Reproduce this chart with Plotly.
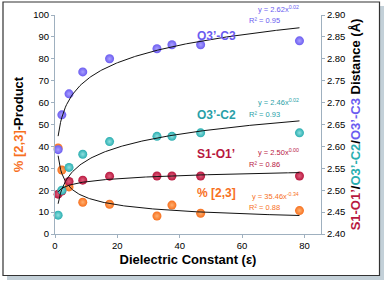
import numpy as np
import plotly.graph_objects as go

# Dielectric constants (x)
eps = [1.0, 2.2, 4.5, 8.9, 17.5, 32.7, 37.5, 46.7, 78.4]

# % [2,3]-Product (left axis)
pct_23 = [39.3, 29.2, 21.5, 14.5, 13.6, 8.2, 13.2, 9.5, 10.7]

# Distances (right axis, Å)
s1_o1 = [2.491, 2.498, 2.520, 2.523, 2.532, 2.5325, 2.5325, 2.5325, 2.5325]
o3_c2 = [2.443, 2.500, 2.552, 2.582, 2.611, 2.623, 2.623, 2.631, 2.631]
o3_c3 = [2.5925, 2.672, 2.720, 2.770, 2.800, 2.823, 2.832, 2.832, 2.841]

eq_text = ["y = 2.62x<sup>0.02</sup>", "y = 2.46x<sup>0.02</sup>",
           "y = 2.50x<sup>0.00</sup>", "y = 35.46x<sup>-0.34</sup>"]
r2_text = ["R² = 0.95", "R² = 0.93", "R² = 0.86", "R² = 0.88"]
labels = ["O3’-C3", "O3’-C2", "S1-O1’", "% [2,3]"]

C_PUR = "#6b5cf0"
C_TEAL = "#2aaeb0"
C_RED = "#b8183f"
C_ORG = "#f7701e"

L, R, T, B = 55, 65, 15, 49
W, H = 386, 283
PW, PH = W - L - R, H - T - B


def px2paper_x(px):
    return (px - L) / PW


def py2paper_y(py):
    return (H - B - py) / PH


def power_fit(x, y):
    b, ln_a = np.polyfit(np.log(x), np.log(y), 1)
    xs = np.linspace(min(x), max(x), 200)
    return xs, np.exp(ln_a) * xs ** b


fig = go.Figure()


def add_series(y, color, light, axis):
    fig.add_trace(go.Scatter(
        x=eps, y=y, mode="markers", yaxis=axis,
        marker=dict(size=9, color=color,
                    gradient=dict(type="radial", color=light),
                    line=dict(width=0)),
        showlegend=False, cliponaxis=False))


add_series(pct_23, C_ORG, "#ffb070", "y")
add_series(s1_o1, C_RED, "#e0607e", "y2")
add_series(o3_c2, C_TEAL, "#8fe0e0", "y2")
add_series(o3_c3, C_PUR, "#a9a0ff", "y2")

for y, axis in [(o3_c3, "y2"), (o3_c2, "y2"), (s1_o1, "y2"), (pct_23, "y")]:
    xs, ys = power_fit(eps, y)
    fig.add_trace(go.Scatter(x=xs, y=ys, mode="lines", yaxis=axis,
                             line=dict(color="#111111", width=1),
                             showlegend=False, hoverinfo="skip"))

AX = "#9fb0bf"
fig.update_layout(
    width=W, height=H,
    margin=dict(l=L, r=R, t=T, b=B, autoexpand=False),
    paper_bgcolor="white", plot_bgcolor="white",
    font=dict(family="Liberation Sans, Arial, sans-serif", color="black"),
    xaxis=dict(range=[0, 85.3], tickvals=[0, 20, 40, 60, 80], automargin=False,
               showgrid=False, zeroline=False, showline=True,
               linecolor=AX, linewidth=1, ticks="outside", ticklen=3,
               tickcolor=AX, tickfont=dict(size=9.5),
               title=dict(text="<b>Dielectric Constant (ε)</b>",
                          font=dict(size=13), standoff=4)),
    yaxis=dict(range=[0, 100], dtick=10, showgrid=False, zeroline=False, automargin=False,
               showline=True, linecolor=AX, linewidth=1, ticks="outside",
               ticklen=3, tickcolor=AX, tickfont=dict(size=9.5),
               title=dict(text="<b><span style='color:%s'>%% [2,3]</span>-Product</b>" % C_ORG,
                          font=dict(size=13), standoff=6)),
    yaxis2=dict(range=[2.40, 2.90], dtick=0.05, tickformat=".2f", automargin=False,
                overlaying="y", side="right", showgrid=False, zeroline=False,
                showline=True, linecolor=AX, linewidth=1, ticks="outside",
                ticklen=3, tickcolor=AX, tickfont=dict(size=9.5),
                title=dict(text=("<b><span style='color:%s'>S1-O1’</span>/"
                                 "<span style='color:%s'>O3’-C2</span>/"
                                 "<span style='color:%s'>O3’-C3</span> Distance (Å)</b>")
                           % (C_RED, C_TEAL, C_PUR),
                           font=dict(size=13), standoff=6)),
)

lab_colors = [C_PUR, "#2a9fa8", C_RED, C_ORG]
lab_py = [27, 115, 163, 202]
eq_py = [11, 104, 154, 198]
r2_py = [19, 113, 163, 206]
for i in range(4):
    fig.add_annotation(x=px2paper_x(216), y=py2paper_y(lab_py[i]), xref="paper", yref="paper",
                       text="<b>%s</b>" % labels[i],
                       showarrow=False, font=dict(size=12, color=lab_colors[i]))
    fig.add_annotation(x=px2paper_x(301), y=py2paper_y(eq_py[i] + 5), xref="paper", yref="paper",
                       xanchor="right", yanchor="bottom", text=eq_text[i],
                       showarrow=False, font=dict(size=7.5, color=lab_colors[i]))
    fig.add_annotation(x=px2paper_x(282), y=py2paper_y(r2_py[i] - 5), xref="paper", yref="paper",
                       yanchor="top", text=r2_text[i],
                       showarrow=False, font=dict(size=7.5, color=lab_colors[i]))

fig.add_shape(type="rect", xref="paper", yref="paper", layer="below",
              x0=px2paper_x(7), x1=px2paper_x(384), y0=py2paper_y(280), y1=py2paper_y(6),
              line=dict(width=0), fillcolor="#c3d0d8")
fig.add_shape(type="rect", xref="paper", yref="paper", layer="below",
              x0=px2paper_x(3), x1=px2paper_x(379.5), y0=py2paper_y(275.5), y1=py2paper_y(2),
              line=dict(width=1.2, color="#333333"), fillcolor="white")

fig.write_html("out.html", config={"displayModeBar": False},
               post_script="document.body.style.margin='0';document.body.style.overflow='hidden';")
